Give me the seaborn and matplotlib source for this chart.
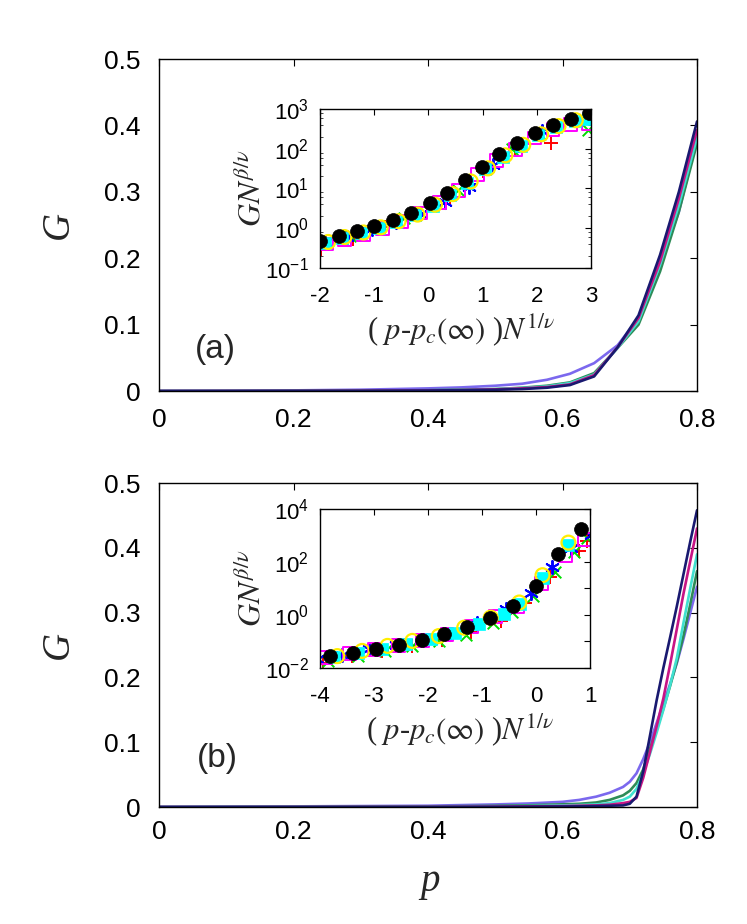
import numpy as np
import pandas as pd
import seaborn as sns
import matplotlib
matplotlib.use("Agg")
import matplotlib.pyplot as plt
from matplotlib.ticker import LogLocator, FuncFormatter, FixedLocator, NullFormatter

# ---------------- data: main panels ----------------
p_a = [0, 0.1, 0.2, 0.3, 0.4, 0.45, 0.5, 0.54, 0.577, 0.611, 0.647, 0.682, 0.713, 0.745, 0.773, 0.8]
G_a_slate = [0, 0.0004, 0.001, 0.002, 0.004, 0.0055, 0.008, 0.011, 0.017, 0.026, 0.042, 0.069, 0.11, 0.19, 0.27, 0.38]
G_a_green = [0, 0.0002, 0.0004, 0.0007, 0.0012, 0.002, 0.003, 0.005, 0.008, 0.013, 0.027, 0.065, 0.10, 0.18, 0.27, 0.373]
G_a_cyan = [0, 0.0001, 0.0003, 0.0006, 0.001, 0.0017, 0.0027, 0.0045, 0.007, 0.012, 0.025, 0.065, 0.105, 0.19, 0.28, 0.382]
G_a_magenta = [0, 0.0001, 0.0002, 0.0005, 0.0009, 0.0015, 0.0025, 0.004, 0.006, 0.010, 0.024, 0.066, 0.11, 0.195, 0.29, 0.393]
G_a_navy = [0, 0, 0.0002, 0.0004, 0.0008, 0.0013, 0.002, 0.003, 0.005, 0.009, 0.022, 0.066, 0.114, 0.205, 0.30, 0.406]

p_b = [0, 0.1, 0.2, 0.3, 0.4, 0.45, 0.5, 0.55, 0.6, 0.625, 0.65, 0.67, 0.69, 0.7, 0.71,
       0.72, 0.73, 0.74, 0.75, 0.76, 0.77, 0.78, 0.79, 0.8]
G_b_slate = [0, 0.0005, 0.001, 0.0015, 0.002, 0.003, 0.004, 0.0055, 0.008, 0.011, 0.016, 0.022, 0.031,
             0.039, 0.052, 0.074, 0.1, 0.13, 0.16, 0.19, 0.222, 0.26, 0.3, 0.34]
G_b_green = [0, 0.0002, 0.0004, 0.0006, 0.001, 0.0013, 0.0018, 0.0027, 0.0042, 0.005, 0.007, 0.011, 0.018,
             0.025, 0.037, 0.058, 0.09, 0.12, 0.152, 0.187, 0.224, 0.265, 0.313, 0.364]
G_b_cyan = [0, 0.0001, 0.0002, 0.0003, 0.0005, 0.0007, 0.001, 0.0015, 0.0025, 0.003, 0.004, 0.006, 0.011,
            0.016, 0.028, 0.052, 0.082, 0.115, 0.15, 0.188, 0.23, 0.285, 0.338, 0.39]
G_b_magenta = [0, 0, 0.0001, 0.0002, 0.0003, 0.0004, 0.0006, 0.001, 0.0015, 0.002, 0.0025, 0.0035, 0.006,
               0.008, 0.014, 0.045, 0.085, 0.125, 0.168, 0.22, 0.275, 0.33, 0.38, 0.43]
G_b_navy = [0, 0, 0, 0.0001, 0.0001, 0.0002, 0.0003, 0.0005, 0.0008, 0.001, 0.0015, 0.002, 0.0025,
            0.005, 0.016, 0.055, 0.11, 0.165, 0.215, 0.262, 0.31, 0.36, 0.41, 0.458]

line_names = ["s1", "s2", "s3", "s4", "s5"]
line_colors = ["#7B68EE", "#2E8B57", "#40E0D0", "#C71585", "#191970"]

# ---------------- data: insets ----------------
# panel (a) inset
ia_black_x = [-2.0, -1.65, -1.32, -1.0, -0.66, -0.32, 0.02, 0.35, 0.67, 0.98, 1.31, 1.64, 1.96, 2.29, 2.63, 2.96]
ia_black_y = [0.48, 0.65, 0.84, 1.12, 1.6, 2.4, 4.2, 7.8, 16, 35, 74, 136, 251, 395, 560, 776]
ia_yellow_x = [-1.85, -1.55, -1.2, -0.88, -0.55, -0.2, 0.12, 0.45, 0.78, 1.1, 1.42, 1.75, 2.08, 2.4, 2.72]
ia_yellow_y = [0.45, 0.6, 0.78, 1.05, 1.5, 2.2, 3.9, 7.2, 15, 32, 68, 125, 230, 370, 520]
ia_cyan_x = [-1.9, -1.6, -1.25, -0.92, -0.6, -0.25, 0.08, 0.4, 0.72, 1.05, 1.38, 1.7, 2.02, 2.35, 2.7, 2.95]
ia_cyan_y = [0.42, 0.56, 0.74, 1.0, 1.4, 2.1, 3.7, 6.8, 14, 30, 63, 118, 215, 350, 500, 560]
ia_mag_x = [-1.88, -1.55, -1.2, -0.85, -0.5, -0.15, 0.2, 0.55, 0.9, 1.25, 1.6, 1.95, 2.3, 2.62, 2.95]
ia_mag_y = [0.4, 0.52, 0.68, 1.0, 1.5, 2.4, 4.5, 9, 22, 50, 96, 185, 300, 415, 420]
ia_blue_x = [-1.9, -1.5, -1.05, -0.6, -0.15, 0.3, 0.75, 1.2, 1.65, 2.1]
ia_blue_y = [0.45, 0.6, 0.95, 1.4, 2.3, 4.5, 11, 38, 125, 280]
ia_green_x = [-1.95, -1.45, -0.95, -0.45, 0.05, 0.55, 1.05, 1.55, 2.05, 2.95]
ia_green_y = [0.4, 0.62, 1.0, 1.8, 3.6, 9, 30, 100, 230, 290]
ia_red_x = [-1.98, -1.4, -0.8, -0.2, 0.4, 1.0, 1.6, 2.27]
ia_red_y = [0.3, 0.55, 1.1, 2.3, 5.5, 28, 105, 141]

# panel (b) inset
ib_black_x = [-3.81, -3.38, -2.97, -2.54, -2.12, -1.70, -1.28, -0.85, -0.43, -0.01, 0.41, 0.83]
ib_black_y = [0.028, 0.038, 0.05, 0.076, 0.11, 0.19, 0.35, 0.78, 2.2, 12.6, 200, 1700]
ib_yellow_x = [-3.68, -3.22, -2.75, -2.29, -1.80, -1.33, -0.84, -0.31, 0.12, 0.60]
ib_yellow_y = [0.028, 0.044, 0.068, 0.105, 0.16, 0.33, 0.79, 2.95, 31.6, 537]
ib_cyan_x = [-3.75, -3.3, -2.85, -2.4, -1.95, -1.5, -1.05, -0.6, -0.3, 0.12, 0.6]
ib_cyan_y = [0.026, 0.036, 0.052, 0.08, 0.12, 0.2, 0.45, 1.1, 2.6, 25, 420]
ib_mag_x = [-3.9, -3.45, -3.0, -2.55, -2.1, -1.65, -1.2, -0.75, -0.35, 0.1, 0.55, 0.9]
ib_mag_y = [0.025, 0.034, 0.05, 0.072, 0.11, 0.18, 0.36, 0.85, 2.0, 15, 180, 700]
ib_blue_x = [-4.05, -3.6, -3.1, -2.6, -2.1, -1.6, -1.1, -0.56, -0.1, 0.3, 0.65, 1.01]
ib_blue_y = [0.022, 0.032, 0.05, 0.075, 0.11, 0.19, 0.5, 1.74, 6.5, 66, 330, 1050]
ib_green_x = [-3.85, -3.3, -2.8, -2.3, -1.8, -1.3, -0.8, -0.45, -0.05, 0.35, 0.7, 0.95]
ib_green_y = [0.018, 0.028, 0.045, 0.068, 0.1, 0.18, 0.5, 1.3, 5, 40, 230, 800]
ib_red_x = [-3.95, -3.4, -2.85, -2.3, -1.75, -1.2, -0.65, -0.2, 0.25, 0.8, 0.95]
ib_red_y = [0.015, 0.028, 0.045, 0.07, 0.11, 0.22, 0.6, 2.8, 28, 270, 600]

main_xticks = [0, 0.2, 0.4, 0.6, 0.8]
main_xticklabels = ["0", "0.2", "0.4", "0.6", "0.8"]
main_yticks = [0, 0.1, 0.2, 0.3, 0.4, 0.5]
main_yticklabels = ["0", "0.1", "0.2", "0.3", "0.4", "0.5"]

# ---------------- style ----------------
sns.set_theme(style="white")
plt.rcParams["font.family"] = ["Liberation Sans", "DejaVu Sans"]
plt.rcParams["mathtext.fontset"] = "stix"
plt.rcParams["axes.edgecolor"] = "black"
plt.rcParams["axes.linewidth"] = 1.0

SERIF = ["Liberation Serif", "DejaVu Serif"]

fig = plt.figure(figsize=(7.47, 9.24), dpi=100)
ax_a = fig.add_axes([0.2129, 0.5768, 0.7202, 0.3593])
ax_b = fig.add_axes([0.2129, 0.1266, 0.7202, 0.3506])
in_a = fig.add_axes([0.4284, 0.7100, 0.3628, 0.1721])
in_b = fig.add_axes([0.4284, 0.2771, 0.3615, 0.1721])


def main_panel(ax, p, series, label, lx, ly, xpad):
    rows = []
    for name, g in zip(line_names, series):
        for pv, gv in zip(p, g):
            rows.append({"p": pv, "G": gv, "N": name})
    df = pd.DataFrame(rows)
    sns.lineplot(data=df, x="p", y="G", hue="N", palette=dict(zip(line_names, line_colors)),
                 ax=ax, legend=False, estimator=None, sort=False, linewidth=1.9)
    ax.set_xlim(0, 0.8)
    ax.set_ylim(0, 0.5)
    ax.set_xticks(main_xticks)
    ax.set_xticklabels(main_xticklabels)
    ax.set_yticks(main_yticks)
    ax.set_yticklabels(main_yticklabels)
    ax.tick_params(direction="in", length=5, width=0.8, top=True, right=True,
                   labelsize=19, colors="black")
    ax.tick_params(axis="x", pad=xpad)
    ax.tick_params(axis="y", pad=13)
    ax.set_xlabel("")
    ax.set_ylabel("")
    for s in ax.spines.values():
        s.set_visible(True)
        s.set_color("black")
    ax.text(-0.188, 0.5, "G", transform=ax.transAxes, rotation=90, ha="center", va="center",
            fontsize=28, fontstyle="italic", family=SERIF)
    ax.text(lx, ly, label, transform=ax.transAxes, ha="center", va="center", fontsize=24)


main_panel(ax_a, p_a, [G_a_slate, G_a_green, G_a_cyan, G_a_magenta, G_a_navy], "(a)", 0.105, 0.125, 12)
main_panel(ax_b, p_b, [G_b_slate, G_b_green, G_b_cyan, G_b_magenta, G_b_navy], "(b)", 0.108, 0.15, 9)
fig.text(0.576, 0.046, "p", ha="center", va="center", fontsize=28, fontstyle="italic", family=SERIF)


def inset(ax, sets, xlim, ylim, xticks, even_only):
    for (xs, ys, kind) in sets:
        if kind == "red":
            sns.scatterplot(x=xs, y=ys, ax=ax, marker="+", s=90, color="#FF0000", linewidth=1.4)
        elif kind == "green":
            sns.scatterplot(x=xs, y=ys, ax=ax, marker="x", s=70, color="#00DD00", linewidth=1.4)
        elif kind == "blue":
            sns.scatterplot(x=xs, y=ys, ax=ax, marker=(6, 2, 0), s=90, color="#0000FF", linewidth=1.4)
        elif kind == "mag":
            sns.scatterplot(x=xs, y=ys, ax=ax, marker="s", s=85, color="#FF00FF",
                            facecolor="none", edgecolor="#FF00FF", linewidth=1.4)
        elif kind == "cyan":
            sns.scatterplot(x=xs, y=ys, ax=ax, marker="s", s=85, color="#00FFFF",
                            edgecolor="#00FFFF", linewidth=0.5)
        elif kind == "yellow":
            sns.scatterplot(x=xs, y=ys, ax=ax, marker="o", s=100, color="#FFFF00",
                            facecolor="none", edgecolor="#FFEE00", linewidth=1.6)
        elif kind == "black":
            sns.scatterplot(x=xs, y=ys, ax=ax, marker="o", s=100, color="black",
                            edgecolor="black", linewidth=0.5, zorder=5)
    ax.set_yscale("log")
    ax.set_xlim(*xlim)
    ax.set_ylim(*ylim)
    ax.set_xticks(xticks)
    ax.set_xticklabels([str(t) for t in xticks])
    lo, hi = int(np.log10(ylim[0])), int(np.log10(ylim[1]))
    decades = list(range(lo, hi + 1))
    ax.yaxis.set_major_locator(FixedLocator([10.0 ** e for e in decades]))

    def fmt(v, pos):
        e = int(round(np.log10(v)))
        if even_only and e % 2 != 0:
            return ""
        return r"$\mathdefault{10^{%d}}$" % e
    ax.yaxis.set_major_formatter(FuncFormatter(fmt))
    if even_only:
        ax.yaxis.set_minor_locator(FixedLocator([]))
    else:
        ax.yaxis.set_minor_locator(LogLocator(base=10, subs=(2, 4, 6, 8)))
        ax.yaxis.set_minor_formatter(NullFormatter())
    ax.tick_params(which="major", direction="in", length=4, width=0.8, top=True, right=True,
                   labelsize=16, colors="black")
    ax.tick_params(axis="x", which="major", pad=13)
    ax.tick_params(axis="y", which="major", pad=8)
    ax.tick_params(which="minor", direction="in", length=2.5, width=0.6, left=True, right=True)
    ax.set_xlabel("")
    ax.set_ylabel("")
    for s in ax.spines.values():
        s.set_visible(True)
        s.set_color("black")
        s.set_linewidth(1.0)
    ax.text(-0.25, 0.5, r"$GN^{\beta/\nu}$", transform=ax.transAxes, rotation=90,
            ha="center", va="center", fontsize=23)
    ax.text(0.52, -0.395, r"( $p$-$p_c(\infty)$ )$N^{1/\nu}$", transform=ax.transAxes,
            ha="center", va="center", fontsize=22, family=SERIF)


inset(in_a, [(ia_red_x, ia_red_y, "red"), (ia_green_x, ia_green_y, "green"),
             (ia_blue_x, ia_blue_y, "blue"), (ia_mag_x, ia_mag_y, "mag"),
             (ia_cyan_x, ia_cyan_y, "cyan"), (ia_yellow_x, ia_yellow_y, "yellow"),
             (ia_black_x, ia_black_y, "black")],
      (-2, 3), (0.1, 1000), [-2, -1, 0, 1, 2, 3], False)
inset(in_b, [(ib_red_x, ib_red_y, "red"), (ib_green_x, ib_green_y, "green"),
             (ib_blue_x, ib_blue_y, "blue"), (ib_mag_x, ib_mag_y, "mag"),
             (ib_cyan_x, ib_cyan_y, "cyan"), (ib_yellow_x, ib_yellow_y, "yellow"),
             (ib_black_x, ib_black_y, "black")],
      (-4, 1), (0.01, 10000), [-4, -3, -2, -1, 0, 1], True)

fig.savefig("out.png", dpi=100, facecolor="white")
